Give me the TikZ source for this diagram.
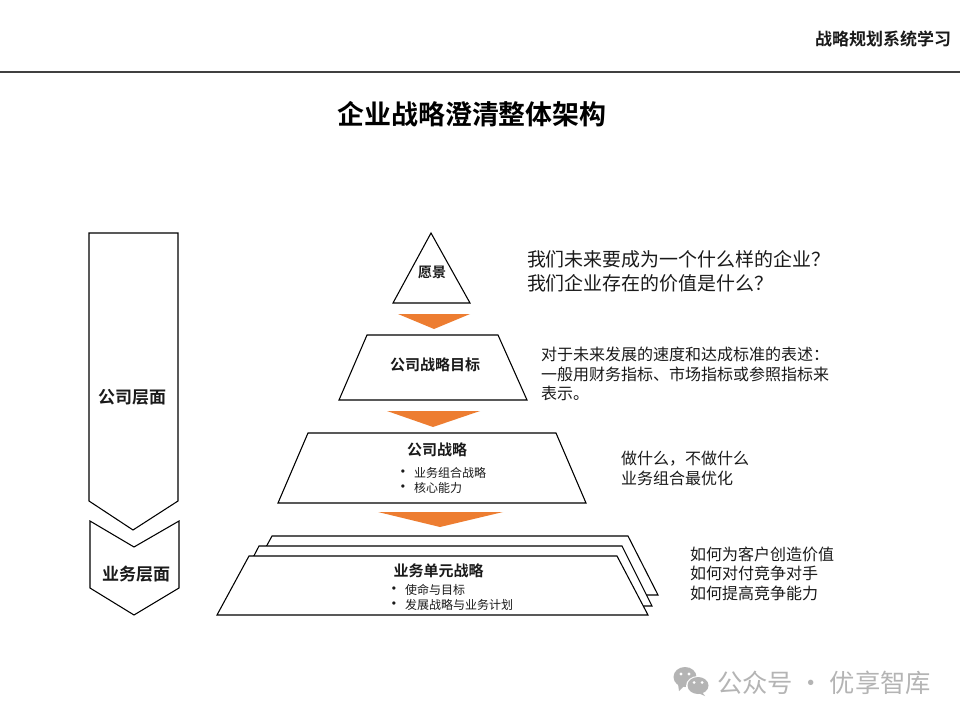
\documentclass[tikz,border=0pt]{standalone}
\usepackage{fontspec}
\setmainfont{Noto Sans CJK SC}
\newfontfamily\cjkbold{Noto Sans CJK SC Bold}
\newfontfamily\bulfont{Liberation Sans}
\definecolor{ink}{HTML}{1A1A1A}
\definecolor{orangefill}{HTML}{ED7D31}
\definecolor{wm}{HTML}{B4B4B4}
\tikzset{
  outline/.style={draw=black,line width=0.8pt,fill=white,line join=miter},
  pointer/.style={fill=orangefill,draw=none},
  txt/.style={inner sep=0pt,outer sep=0pt,text=ink,align=left},
  head/.style={txt,font=\cjkbold\fontsize{11.25pt}{14pt}\selectfont},
  side/.style={txt,font=\cjkbold\fontsize{12.75pt}{16pt}\selectfont},
  small/.style={txt,font=\fontsize{9pt}{11.2pt}\selectfont},
  bullet/.style={txt,font=\bulfont\fontsize{9pt}{11.2pt}\selectfont},
}
\begin{document}
\begin{tikzpicture}[x=0.75pt,y=-0.75pt]
\useasboundingbox (0,0) rectangle (960,720);
\fill[white] (0,0) rectangle (960,720);
% header
\draw[draw=black!75,line width=0.8pt] (0,72) -- (960,72);
\node[txt,anchor=east,font=\cjkbold\fontsize{12.75pt}{15pt}\selectfont] (hdr) at (951,39) {战略规划系统学习};
\node[txt,font=\cjkbold\fontsize{20.2pt}{24pt}\selectfont,text=black] (title) at (472,114.5) {企业战略澄清整体架构};
% left arrows
\draw[outline] (89,233) -- (178,233) -- (178,501) -- (133,530) -- (89,501) -- cycle;
\draw[outline] (90,521) -- (134,547) -- (179,521) -- (179,588) -- (134,615) -- (90,588) -- cycle;
\node[side] (l1) at (132,397) {公司层面};
\node[side] (l2) at (136,574) {业务层面};
% pyramid
\draw[outline] (431,233) -- (470,303) -- (393,303) -- cycle;
\fill[pointer] (398,314) -- (470,314) -- (434,329) -- cycle;
\draw[outline] (367,335) -- (498,335) -- (527,400) -- (339,400) -- cycle;
\fill[pointer] (387,411) -- (480,411) -- (433,427) -- cycle;
\draw[outline] (308,433) -- (556,433) -- (586,503) -- (278,503) -- cycle;
\fill[pointer] (378,512) -- (503,512) -- (440,527) -- cycle;
\draw[outline] (272,536) -- (628,536) -- (658,595) -- (240,595) -- cycle;
\draw[outline] (259,546) -- (622,546) -- (652,606) -- (228,606) -- cycle;
\draw[outline] (249,556) -- (617,556) -- (648,615) -- (217,615) -- cycle;
% labels in shapes
\node[txt,font=\cjkbold\fontsize{10.5pt}{12pt}\selectfont] (v) at (432,272) {愿景};
\node[head] (g) at (435,365) {公司战略目标};
\node[head] (s) at (437,450) {公司战略};
\node[small,anchor=west] (s1) at (414,473) {业务组合战略};
\node[small,anchor=west] (s2) at (414,488) {核心能力};
\node[bullet] (sb1) at (403,473) {•};
\node[bullet] (sb2) at (403,488) {•};
\node[head] (b) at (438.5,570.5) {业务单元战略};
\node[small,anchor=west] (b1) at (405,590) {使命与目标};
\node[small,anchor=west] (b2) at (405,605) {发展战略与业务计划};
\node[bullet] (bb1) at (394,590) {•};
\node[bullet] (bb2) at (394,605) {•};
% right texts
\node[txt,anchor=north west,font=\fontsize{14.2pt}{18pt}\selectfont] (t1) at (527,250.5) {我们未来要成为一个什么样的企业^^^^ff1f\\我们企业存在的价值是什么^^^^ff1f};
\node[txt,anchor=north west,font=\fontsize{12pt}{14.7pt}\selectfont] (t2) at (541,347) {对于未来发展的速度和达成标准的表述^^^^ff1a\\一般用财务指标、市场指标或参照指标来\\表示。};
\node[txt,anchor=north west,font=\fontsize{12pt}{15pt}\selectfont] (t3) at (621,451) {做什么^^^^ff0c不做什么\\业务组合最优化};
\node[txt,anchor=north west,font=\fontsize{12pt}{14.7pt}\selectfont] (t4) at (690,546.5) {如何为客户创造价值\\如何对付竞争对手\\如何提高竞争能力};
% watermark
\fill[wm] (685,677) ellipse (11.5 and 10);
\fill[wm] (678,684) -- (684,686) -- (679,691) -- cycle;
\fill[white] (698,686) ellipse (12 and 10);
\fill[wm] (698,685.5) ellipse (10.5 and 8.5);
\fill[wm] (702,692) -- (698,693) -- (705,696) -- cycle;
\fill[white] (681,674) circle (1.6) (689,674) circle (1.6) (694,682.5) circle (1.5) (702,682.5) circle (1.5);
\node[txt,anchor=west,text=wm,font=\fontsize{19pt}{22pt}\selectfont] (wmt) at (717,683) {公众号 · 优享智库};
\end{tikzpicture}
\end{document}
